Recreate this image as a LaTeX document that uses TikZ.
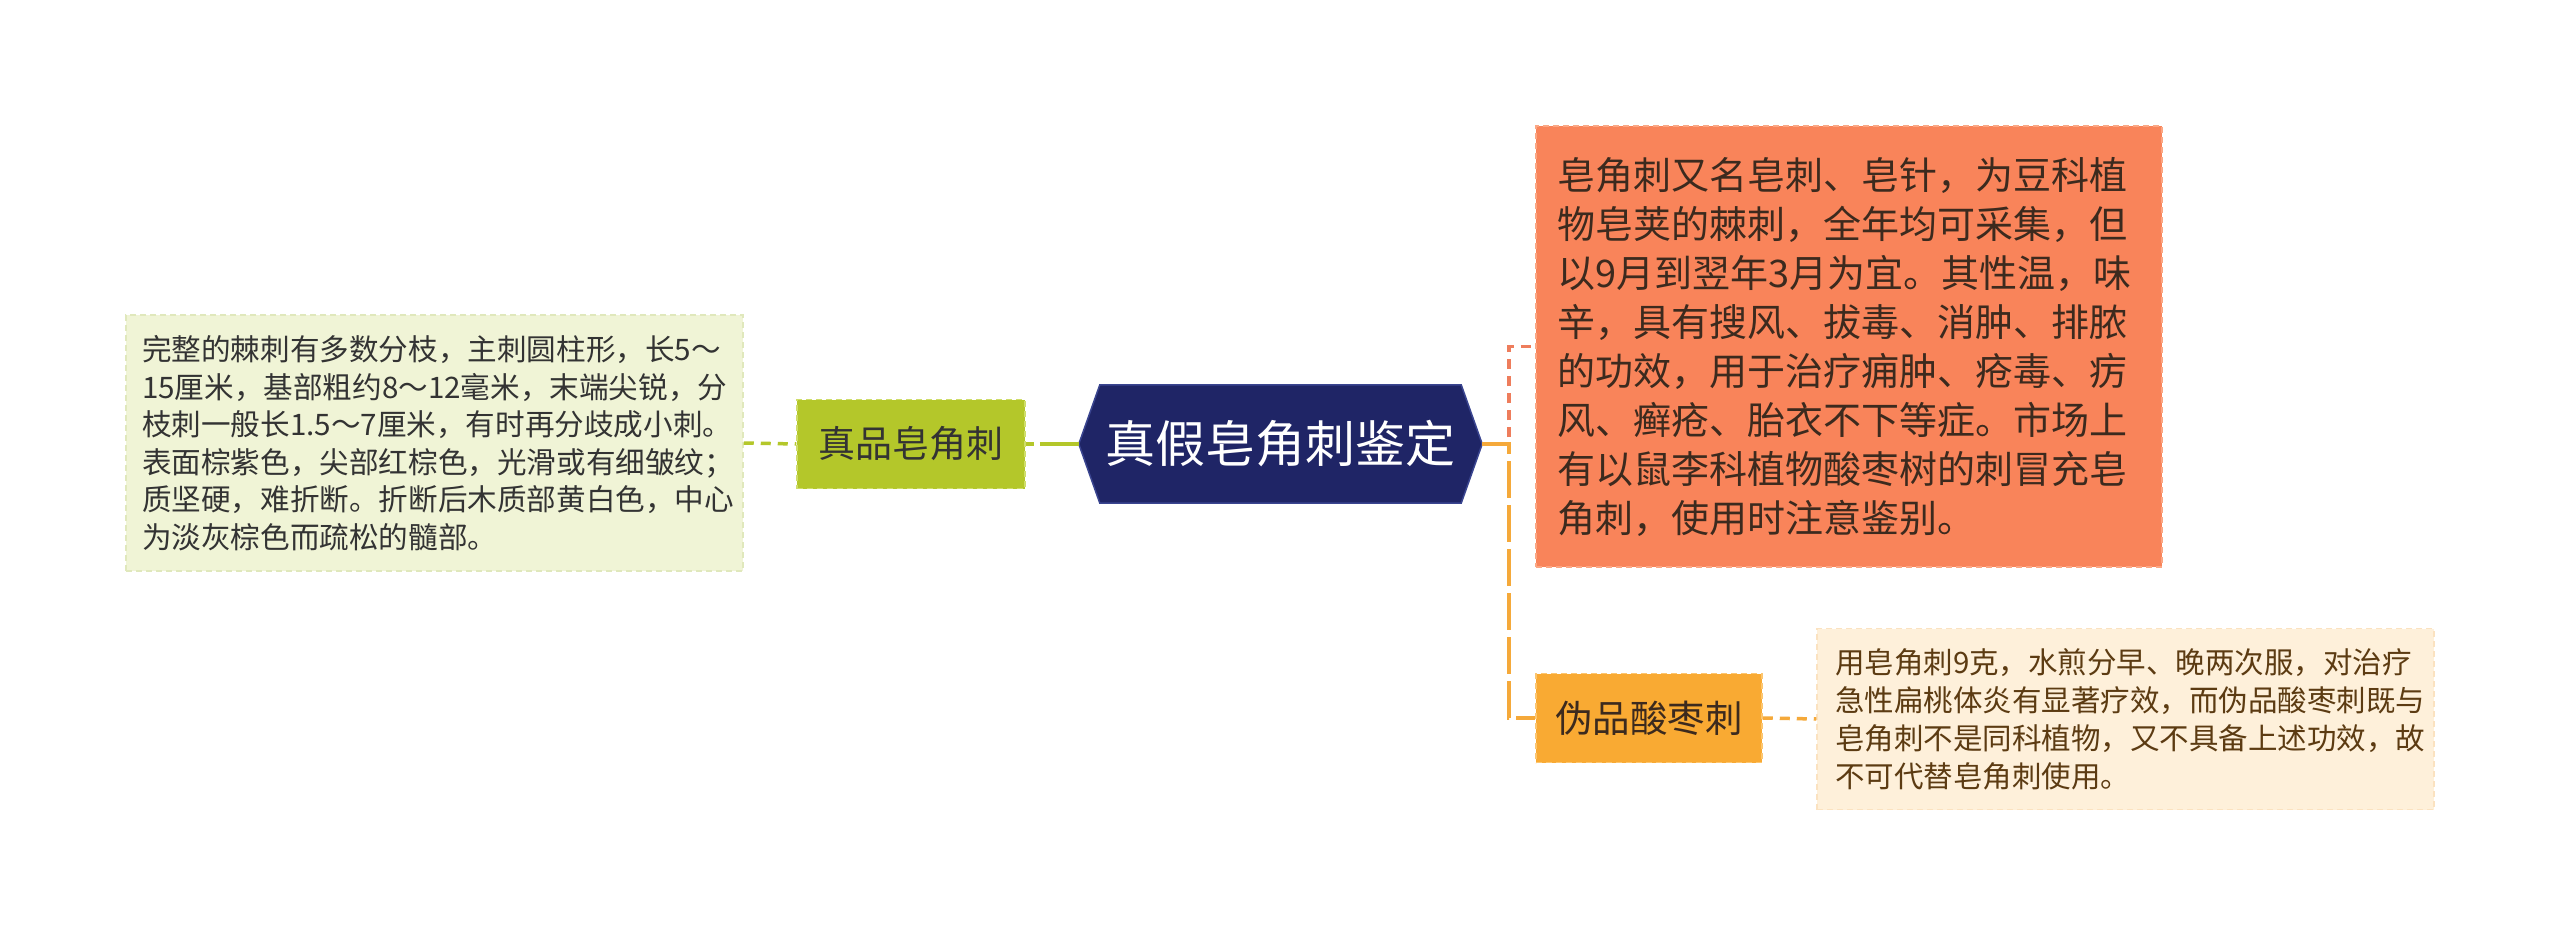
\documentclass[tikz,border=0pt]{standalone}
\usepackage{fontspec}
\setmainfont{Noto Sans CJK SC}
\usetikzlibrary{backgrounds}
\definecolor{cMain}{HTML}{1F2566}
\definecolor{cMainLine}{HTML}{3A4590}
\definecolor{cGreen}{HTML}{B4C72A}
\definecolor{cGreenLine}{HTML}{CFDD6A}
\definecolor{cLeftFill}{HTML}{F0F4D6}
\definecolor{cLeftLine}{HTML}{E0E8BC}
\definecolor{cSalmon}{HTML}{F9845A}
\definecolor{cSalmonLine}{HTML}{FBA784}
\definecolor{cSalmonConn}{HTML}{EE7D5C}
\definecolor{cOrange}{HTML}{F9AA33}
\definecolor{cOrangeLine}{HTML}{FCC670}
\definecolor{cOrangeConn}{HTML}{F5A93A}
\definecolor{cPeach}{HTML}{FEF0DA}
\definecolor{cPeachLine}{HTML}{FBE2C0}
\definecolor{cText}{HTML}{333333}
\definecolor{cTextDark}{HTML}{3C2A1E}
\definecolor{cBrown}{HTML}{5C3B12}
\tikzset{
  box/.style={rectangle, align=left, inner ysep=0pt, line width=1.5pt, dash pattern=on 6pt off 4pt},
  topic/.style={rectangle, align=center, inner sep=0pt, line width=1.5pt, dash pattern=on 6pt off 4pt},
  conn/.style={line width=3.5pt, dash pattern=on 10pt off 7pt},
}
\begin{document}
\begin{tikzpicture}[x=1pt,y=-1pt]
\useasboundingbox (0,0) rectangle (2560,936);
% central topic
\node[font=\fontsize{50}{60}\selectfont, text=white, minimum width=403pt, minimum height=118pt, inner sep=0pt] (main) at (1280.5,444) {真假皂角刺鉴定};
% left branch
\node[topic, fill=cGreen, draw=cGreenLine, text=cText, minimum width=228pt, minimum height=89pt, font=\fontsize{37}{44}\selectfont] (green) at (911,444) {真品皂角刺};
\node[box, fill=cLeftFill, draw=cLeftLine, text=cText, text width=585pt, inner xsep=16pt, minimum height=256pt, font=\fontsize{29.6}{37.5}\selectfont] (left) at (434.5,443) {完整的棘刺有多数分枝，主刺圆柱形，长5～\\15厘米，基部粗约8～12毫米，末端尖锐，分\\枝刺一般长1.5～7厘米，有时再分歧成小刺。\\表面棕紫色，尖部红棕色，光滑或有细皱纹；\\质坚硬，难折断。折断后木质部黄白色，中心\\为淡灰棕色而疏松的髓部。};
% right branches
\node[box, fill=cSalmon, draw=cSalmonLine, text=cTextDark, text width=583pt, inner xsep=21.5pt, minimum height=441pt, font=\fontsize{38}{49}\selectfont] (obox) at (1849,346.5) {皂角刺又名皂刺、皂针，为豆科植\\物皂荚的棘刺，全年均可采集，但\\以9月到翌年3月为宜。其性温，味\\辛，具有搜风、拔毒、消肿、排脓\\的功效，用于治疗痈肿、疮毒、疠\\风、癣疮、胎衣不下等症。市场上\\有以鼠李科植物酸枣树的刺冒充皂\\角刺，使用时注意鉴别。};
\node[topic, fill=cOrange, draw=cOrangeLine, text=cTextDark, minimum width=226pt, minimum height=89pt, font=\fontsize{37.5}{44}\selectfont] (fake) at (1649,718) {伪品酸枣刺};
\node[box, fill=cPeach, draw=cPeachLine, text=cBrown, text width=581pt, inner xsep=18pt, minimum height=181pt, font=\fontsize{29.5}{38}\selectfont] (rbox) at (2125.5,719) {用皂角刺9克，水煎分早、晚两次服，对治疗\\急性扁桃体炎有显著疗效，而伪品酸枣刺既与\\皂角刺不是同科植物，又不具备上述功效，故\\不可代替皂角刺使用。};
% background and hexagon
\begin{scope}[on background layer]
\fill[white] (0,0) rectangle (2560,936);
\filldraw[fill=cMain, draw=cMainLine, line width=1.5pt] (main.west) -- ([xshift=21pt]main.north west) -- ([xshift=-21pt]main.north east) -- (main.east) -- ([xshift=-21pt]main.south east) -- ([xshift=21pt]main.south west) -- cycle;
\end{scope}
% connectors
\draw[conn, cGreen] (left.east) -- (green.west);
\draw[conn, cGreen, dash pattern=on 8pt off 6pt on 80pt] (green.east) -- (main.west);
\draw[conn, cSalmonConn] (main.east) -- ++(27,0) |- (obox.west);
\draw[conn, cOrangeConn, dash pattern=on 27pt off 0pt on 10pt off 7pt] (main.east) -- ++(27,0) |- (fake.west);
\draw[conn, cOrangeConn] (fake.east) -- (rbox.west);
\end{tikzpicture}
\end{document}
